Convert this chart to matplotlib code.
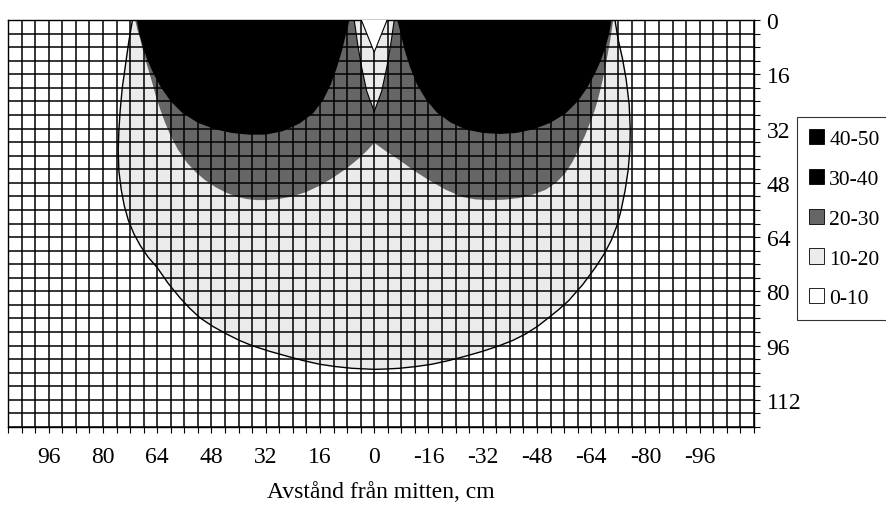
import matplotlib.pyplot as plt
from matplotlib.patches import Patch
import numpy as np

plt.rcParams['font.family'] = ['Liberation Serif', 'DejaVu Serif']

# Contour bands (cm from centre, depth in cm)
band_labels = ['40-50', '30-40', '20-30', '10-20', '0-10']
band_colors = ['#000000', '#000000', '#666666', '#ebebeb', '#ffffff']

# 10-level isoline (outer curve), left top -> bottom -> right top
iso10_x = [71.3, 72.4, 73.4, 74.3, 74.9, 75.3, 75.5, 75.3, 74.6, 73.7, 72.5, 70.9, 69.0, 66.7, 64.0,
           60.8, 57.3, 54.4, 51.4, 47.5, 43.5, 39.7, 35.8, 30.8, 25.8, 21.0, 16.1, 11.3, 6.5, 0.0,
           -3.6, -7.3, -12.1, -17.0, -22.0, -27.0, -31.9, -36.7, -40.8, -44.6, -48.2, -51.4, -54.5,
           -57.3, -61.5, -65.2, -67.8, -69.9, -71.6, -72.8, -74.0, -74.9, -75.4, -75.5, -75.2, -74.3,
           -73.2, -71.9, -71.0]
iso10_y = [0.0, 6.5, 13.6, 20.0, 26.4, 32.5, 38.3, 44.5, 50.1, 54.8, 59.1, 63.0, 66.5, 69.9, 73.0,
           77.6, 81.9, 85.0, 87.8, 90.4, 92.6, 94.5, 96.1, 97.7, 99.1, 100.4, 101.5, 102.2, 102.7, 103.0,
           102.9, 102.7, 102.2, 101.5, 100.4, 99.1, 97.7, 96.1, 94.5, 92.6, 90.3, 87.8, 85.3,
           82.8, 78.0, 73.0, 69.0, 65.0, 60.6, 56.1, 50.2, 44.2, 38.2, 32.3, 25.0, 17.5,
           11.3, 5.6, 0.0]

# 10-level pocket at the top centre
pocket10_x = [3.8, 0.0, -3.8]
pocket10_y = [0.0, 9.5, 0.0]

# 20-level isoline around both lobes
iso20_x = [70.5, 69.8, 69.0, 68.3, 67.5, 66.5, 65.5, 64.4, 63.1, 61.7, 60.2, 57.9, 55.2, 52.6, 49.9,
           46.8, 43.5, 40.5, 37.6, 34.6, 31.7, 28.3, 25.0, 22.5, 20.0, 16.0, 12.3, 8.2, 4.4, 2.0, 0.0,
           -3.6, -7.3, -11.7, -16.1, -21.0, -26.0, -29.9, -33.8, -38.2, -42.6, -46.7, -50.5, -53.7,
           -56.4, -58.5, -60.2, -62.2, -64.0, -65.1, -66.0, -67.4, -68.5, -69.6, -70.5]
iso20_y = [0.0, 3.0, 5.6, 8.6, 11.6, 15.0, 18.4, 22.4, 26.4, 30.2, 33.8, 38.2, 42.1, 44.9, 47.2,
           49.3, 51.0, 52.1, 52.8, 53.1, 53.1, 52.8, 52.2, 51.5, 50.7, 48.8, 46.6, 43.8, 40.7, 38.4, 36.2,
           38.8, 41.2, 44.4, 47.2, 50.0, 52.2, 52.9, 53.1, 53.0, 52.5, 51.5, 50.1, 47.9,
           45.1, 41.8, 38.3, 34.0, 29.4, 26.4, 23.4, 17.6, 12.0, 6.0, 0.0]

# 20-level notch at the top centre (right to left)
notch20_x = [-5.9, -4.9, -3.7, -2.2, 0.0, 2.2, 3.7, 4.9, 5.9]
notch20_y = [0.0, 7.0, 14.0, 21.0, 27.0, 21.0, 14.0, 7.0, 0.0]

# 30-level isolines, one per lobe
lobe_left_x = [70.0, 69.3, 68.2, 66.8, 65.0, 62.8, 60.0, 56.5, 52.0, 47.0, 42.0, 37.0, 32.0, 27.0,
               22.0, 18.0, 15.0, 12.8, 11.0, 9.5, 8.3, 7.3]
lobe_left_y = [0.0, 4.0, 8.0, 12.0, 16.0, 20.0, 24.0, 27.5, 30.3, 32.2, 33.3, 33.8, 33.8, 32.8,
               30.5, 27.5, 23.5, 19.0, 14.0, 9.0, 4.0, 0.0]
lobe_right_x = [-6.8, -7.8, -9.0, -10.6, -12.6, -15.3, -18.5, -22.5, -27.0, -32.0, -37.0, -42.0,
                -47.0, -52.0, -56.5, -60.0, -62.8, -65.0, -66.8, -68.2, -69.3, -70.0]
lobe_right_y = [0.0, 4.0, 9.0, 14.0, 19.0, 23.5, 27.3, 30.2, 32.3, 33.3, 33.6, 33.3,
                32.2, 30.3, 27.5, 24.0, 20.0, 16.0, 12.0, 8.0, 4.0, 0.0]

x_ticks = [96, 80, 64, 48, 32, 16, 0, -16, -32, -48, -64, -80, -96]
y_ticks = [0, 16, 32, 48, 64, 80, 96, 112]

fig = plt.figure(figsize=(8.86, 5.06), dpi=100)
ax = fig.add_axes([8 / 886, 1 - 428 / 506, 746 / 886, 407 / 506])

ax.fill(iso10_x, iso10_y, facecolor=band_colors[3], edgecolor='none', zorder=1)
ax.fill(iso20_x + notch20_x, iso20_y + notch20_y, facecolor=band_colors[2], edgecolor='none', zorder=2)
ax.fill(lobe_left_x, lobe_left_y, facecolor=band_colors[1], edgecolor='none', zorder=3)
ax.fill(lobe_right_x, lobe_right_y, facecolor=band_colors[1], edgecolor='none', zorder=3)
ax.fill(pocket10_x, pocket10_y, facecolor=band_colors[4], edgecolor='none', zorder=3)

# isolines bounding the light band
ax.plot(iso10_x, iso10_y, color='black', lw=1.0, zorder=5)
ax.plot(pocket10_x, pocket10_y, color='black', lw=0.8, zorder=5)
ax.plot(notch20_x, notch20_y, color='black', lw=0.8, zorder=5)

ax.set_xlim(108, -112)
ax.set_ylim(120, 0)

ax.set_xticks(x_ticks)
ax.set_xticklabels([str(v) for v in x_ticks])
ax.set_xticks(np.arange(-112, 109, 4), minor=True)
ax.set_yticks(y_ticks)
ax.set_yticklabels([str(v) for v in y_ticks])
ax.set_yticks(np.arange(0, 121, 4), minor=True)
ax.yaxis.tick_right()

ax.grid(True, which='both', color='black', lw=1.1, zorder=4)
ax.set_axisbelow(False)
ax.tick_params(which='both', direction='out', length=4, width=0.8, color='black')
ax.tick_params(axis='x', which='major', labelsize=17, pad=10)
ax.tick_params(axis='y', which='major', labelsize=17, pad=5)
for s in ax.spines.values():
    s.set_color('black')
    s.set_linewidth(1.0)

ax.set_xlabel('Avstånd från mitten, cm', fontsize=17, labelpad=10)

handles = [Patch(facecolor=c, edgecolor='black', lw=0.6) for c in band_colors]
leg = fig.legend(handles, band_labels, loc='upper left', bbox_to_anchor=(797 / 886, 1 - 118 / 506),
                 fontsize=15.5, frameon=True, fancybox=False, handlelength=0.7, handleheight=0.7,
                 handletextpad=0.25, labelspacing=0.92, borderpad=0.55, borderaxespad=0)
leg.get_frame().set_edgecolor('black')
leg.get_frame().set_linewidth(0.8)

fig.savefig('out.png', dpi=100)
